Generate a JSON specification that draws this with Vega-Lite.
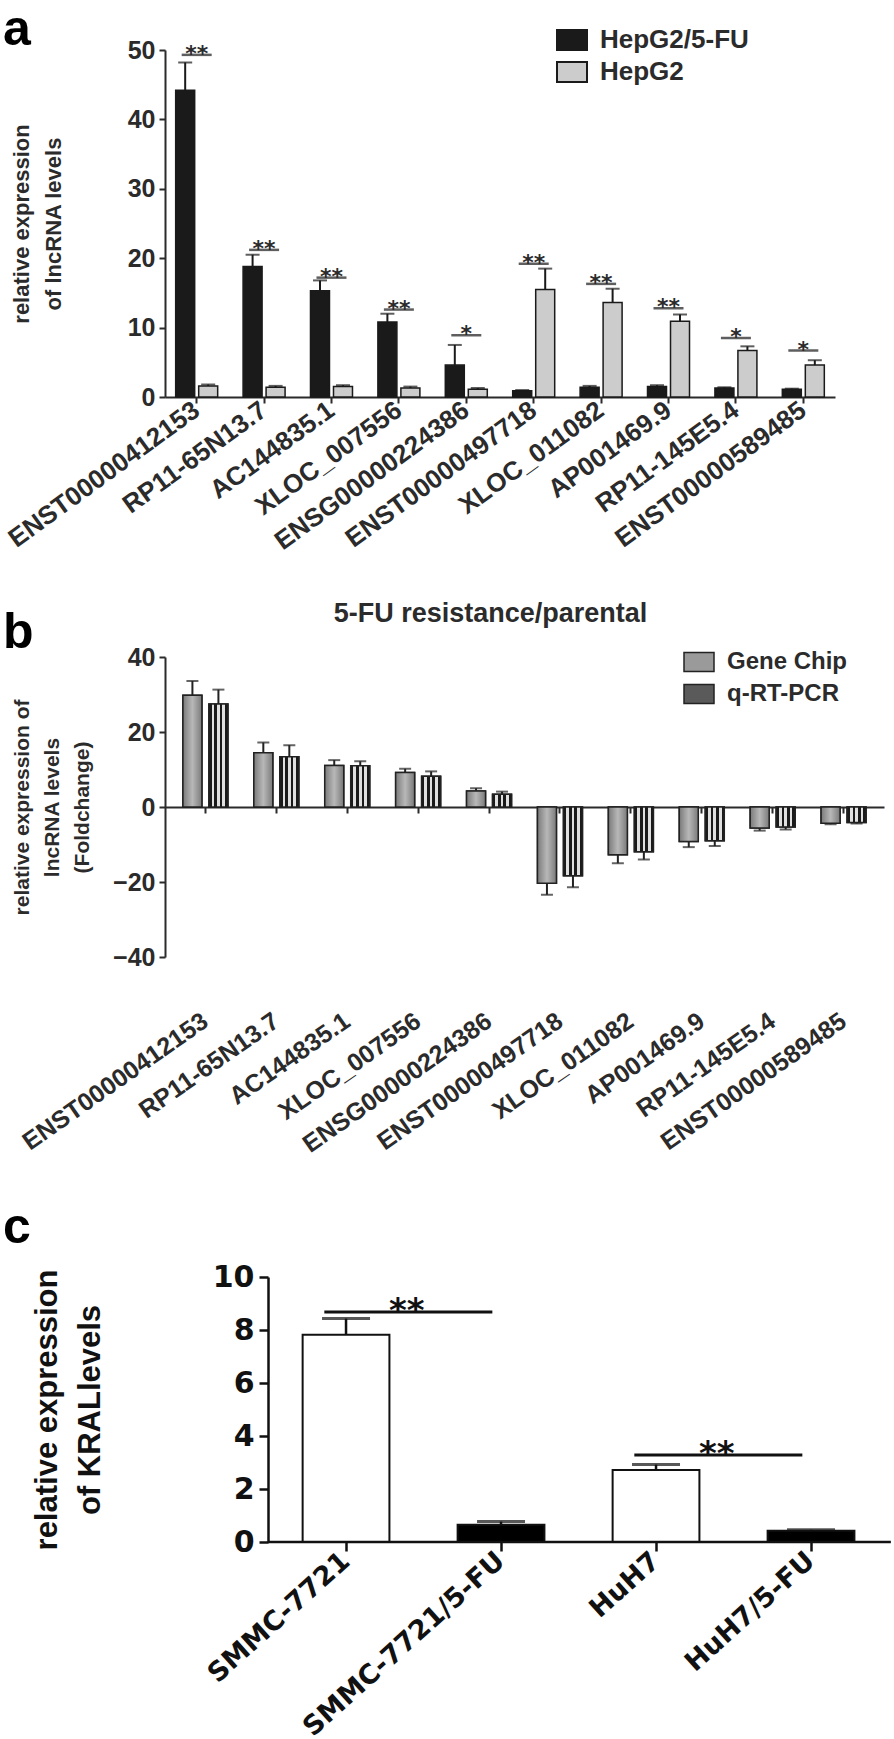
{
  "$schema": "https://vega.github.io/schema/vega-lite/v6.json",
  "background": "white",
  "padding": {"left": 3, "top": 5, "right": 0, "bottom": 0},
  "columns": 1,
  "spacing": 45,
  "resolve": {"scale": {"color": "independent"}},
  "config": {
    "view": {"stroke": null},
    "font": "Liberation Sans",
    "axis": {"grid": false, "domainColor": "#2b2b2b", "tickColor": "#2b2b2b", "labelColor": "#2b2b2b", "titleColor": "#2b2b2b", "domainWidth": 2, "tickWidth": 2, "labelFontWeight": "bold", "titleFontWeight": "bold", "labelOverlap": false, "labelLimit": 0, "labelFlush": false, "titleLimit": 1000},
    "legend": {"labelLimit": 0},
    "title": {"color": "black", "fontWeight": "bold"}
  },
  "datasets": {
    "a": [
      {"gene": "ENST00000412153", "group": "HepG2/5-FU", "value": 44.2, "err": 48.2},
      {"gene": "ENST00000412153", "group": "HepG2", "value": 1.6, "err": 1.8},
      {"gene": "RP11-65N13.7", "group": "HepG2/5-FU", "value": 18.8, "err": 20.5},
      {"gene": "RP11-65N13.7", "group": "HepG2", "value": 1.4, "err": 1.6},
      {"gene": "AC144835.1", "group": "HepG2/5-FU", "value": 15.3, "err": 16.8},
      {"gene": "AC144835.1", "group": "HepG2", "value": 1.5, "err": 1.7},
      {"gene": "XLOC_007556", "group": "HepG2/5-FU", "value": 10.8, "err": 12.0},
      {"gene": "XLOC_007556", "group": "HepG2", "value": 1.3, "err": 1.5},
      {"gene": "ENSG00000224386", "group": "HepG2/5-FU", "value": 4.6, "err": 7.5},
      {"gene": "ENSG00000224386", "group": "HepG2", "value": 1.1, "err": 1.3},
      {"gene": "ENST00000497718", "group": "HepG2/5-FU", "value": 0.9, "err": 1.0},
      {"gene": "ENST00000497718", "group": "HepG2", "value": 15.5, "err": 18.5},
      {"gene": "XLOC_011082", "group": "HepG2/5-FU", "value": 1.4, "err": 1.6},
      {"gene": "XLOC_011082", "group": "HepG2", "value": 13.6, "err": 15.6},
      {"gene": "AP001469.9", "group": "HepG2/5-FU", "value": 1.5, "err": 1.7},
      {"gene": "AP001469.9", "group": "HepG2", "value": 10.9, "err": 11.9},
      {"gene": "RP11-145E5.4", "group": "HepG2/5-FU", "value": 1.3, "err": 1.4},
      {"gene": "RP11-145E5.4", "group": "HepG2", "value": 6.7, "err": 7.3},
      {"gene": "ENST00000589485", "group": "HepG2/5-FU", "value": 1.1, "err": 1.2},
      {"gene": "ENST00000589485", "group": "HepG2", "value": 4.6, "err": 5.3}
    ],
    "asig": [
      {"gene": "ENST00000412153", "line": 49.3, "star": "**"},
      {"gene": "RP11-65N13.7", "line": 21.2, "star": "**"},
      {"gene": "AC144835.1", "line": 17.2, "star": "**"},
      {"gene": "XLOC_007556", "line": 12.6, "star": "**"},
      {"gene": "ENSG00000224386", "line": 8.9, "star": "*"},
      {"gene": "ENST00000497718", "line": 19.2, "star": "**"},
      {"gene": "XLOC_011082", "line": 16.3, "star": "**"},
      {"gene": "AP001469.9", "line": 12.8, "star": "**"},
      {"gene": "RP11-145E5.4", "line": 8.5, "star": "*"},
      {"gene": "ENST00000589485", "line": 6.7, "star": "*"}
    ],
    "b": [
      {"gene": "ENST00000412153", "method": "Gene Chip", "value": 29.8, "err": 33.6},
      {"gene": "ENST00000412153", "method": "q-RT-PCR", "value": 27.5, "err": 31.3},
      {"gene": "RP11-65N13.7", "method": "Gene Chip", "value": 14.5, "err": 17.2},
      {"gene": "RP11-65N13.7", "method": "q-RT-PCR", "value": 13.4, "err": 16.5},
      {"gene": "AC144835.1", "method": "Gene Chip", "value": 11.1, "err": 12.5},
      {"gene": "AC144835.1", "method": "q-RT-PCR", "value": 11.0, "err": 12.2},
      {"gene": "XLOC_007556", "method": "Gene Chip", "value": 9.2, "err": 10.2},
      {"gene": "XLOC_007556", "method": "q-RT-PCR", "value": 8.2, "err": 9.5},
      {"gene": "ENSG00000224386", "method": "Gene Chip", "value": 4.3, "err": 5.0},
      {"gene": "ENSG00000224386", "method": "q-RT-PCR", "value": 3.4, "err": 4.1},
      {"gene": "ENST00000497718", "method": "Gene Chip", "value": -20.3, "err": -23.4},
      {"gene": "ENST00000497718", "method": "q-RT-PCR", "value": -18.3, "err": -21.4},
      {"gene": "XLOC_011082", "method": "Gene Chip", "value": -12.7, "err": -15.0},
      {"gene": "XLOC_011082", "method": "q-RT-PCR", "value": -11.9, "err": -14.0},
      {"gene": "AP001469.9", "method": "Gene Chip", "value": -9.2, "err": -10.7},
      {"gene": "AP001469.9", "method": "q-RT-PCR", "value": -9.0, "err": -10.4},
      {"gene": "RP11-145E5.4", "method": "Gene Chip", "value": -5.6, "err": -6.3},
      {"gene": "RP11-145E5.4", "method": "q-RT-PCR", "value": -5.3, "err": -6.0},
      {"gene": "ENST00000589485", "method": "Gene Chip", "value": -4.3, "err": -4.6},
      {"gene": "ENST00000589485", "method": "q-RT-PCR", "value": -4.1, "err": -4.4}
    ],
    "c": [
      {"cell": "SMMC-7721", "kind": "parental", "value": 7.82, "err": 8.43},
      {"cell": "SMMC-7721/5-FU", "kind": "resistant", "value": 0.65, "err": 0.77},
      {"cell": "HuH7", "kind": "parental", "value": 2.72, "err": 2.92},
      {"cell": "HuH7/5-FU", "kind": "resistant", "value": 0.42, "err": 0.46}
    ],
    "csig": [
      {"from": "SMMC-7721", "to": "SMMC-7721/5-FU", "line": 8.68, "star": "**"},
      {"from": "HuH7", "to": "HuH7/5-FU", "line": 3.28, "star": "**"}
    ],
    "caxis": [
      {"start": "SMMC-7721", "end": "HuH7/5-FU", "level": 0}
    ]
  },
  "concat": [
    {
      "title": {"text": "a", "anchor": "start", "frame": "group", "dx": -162, "fontSize": 50, "offset": -31},
      "width": 670,
      "height": 347,
      "data": {"name": "a"},
      "layer": [
        {
          "transform": [{"filter": "datum.group === 'HepG2/5-FU'"}],
          "mark": {"type": "bar", "stroke": "#1a1a1a", "strokeWidth": 1.5, "width": 19, "xOffset": -11.5},
          "encoding": {
            "x": {"field": "gene", "type": "nominal", "title": null,
              "scale": {"type": "band", "domain": ["ENST00000412153", "RP11-65N13.7", "AC144835.1", "XLOC_007556", "ENSG00000224386", "ENST00000497718", "XLOC_011082", "AP001469.9", "RP11-145E5.4", "ENST00000589485"], "paddingInner": 0.36, "paddingOuter": 0.15},
              "axis": {"labelAngle": -36, "labelFontSize": 26, "tickSize": 6, "labelPadding": 4, "labelAlign": "right", "labelBaseline": "middle"}},
            "y": {"field": "value", "type": "quantitative", "scale": {"domain": [0, 50]},
              "axis": {"title": ["relative expression", "of lncRNA levels"], "titleFontSize": 22, "titleLineHeight": 32, "titlePadding": 62, "values": [0, 10, 20, 30, 40, 50], "labelFontSize": 25, "tickSize": 6, "labelPadding": 4}},
            "color": {"field": "group", "type": "nominal", "scale": {"domain": ["HepG2/5-FU", "HepG2"], "range": ["#1a1a1a", "#cccccc"]},
              "legend": {"orient": "none", "legendX": 391, "legendY": -26, "title": null, "labelFontSize": 26, "labelFontWeight": "bold", "labelColor": "#2b2b2b", "symbolType": "M-1,-0.667H1V0.667H-1Z", "symbolSize": 900, "symbolStrokeColor": "#1a1a1a", "symbolStrokeWidth": 2, "labelOffset": 12, "rowPadding": 1, "padding": 0}}
          }
        },
        {
          "transform": [{"filter": "datum.group === 'HepG2'"}],
          "mark": {"type": "bar", "stroke": "#1a1a1a", "strokeWidth": 1.5, "width": 19, "xOffset": 11.5},
          "encoding": {
            "x": {"field": "gene", "type": "nominal"},
            "y": {"field": "value", "type": "quantitative"},
            "color": {"field": "group", "type": "nominal"}
          }
        },
        {
          "transform": [{"filter": "datum.group === 'HepG2/5-FU'"}],
          "mark": {"type": "rule", "color": "#1a1a1a", "strokeWidth": 2, "xOffset": -11.5},
          "encoding": {
            "x": {"field": "gene", "type": "nominal"},
            "y": {"field": "value", "type": "quantitative"},
            "y2": {"field": "err"}
          }
        },
        {
          "transform": [{"filter": "datum.group === 'HepG2'"}],
          "mark": {"type": "rule", "color": "#1a1a1a", "strokeWidth": 2, "xOffset": 11.5},
          "encoding": {
            "x": {"field": "gene", "type": "nominal"},
            "y": {"field": "value", "type": "quantitative"},
            "y2": {"field": "err"}
          }
        },
        {
          "transform": [{"filter": "datum.group === 'HepG2/5-FU'"}],
          "mark": {"type": "tick", "color": "#1a1a1a", "thickness": 2, "size": 14, "xOffset": -11.5},
          "encoding": {
            "x": {"field": "gene", "type": "nominal"},
            "y": {"field": "err", "type": "quantitative"}
          }
        },
        {
          "transform": [{"filter": "datum.group === 'HepG2'"}],
          "mark": {"type": "tick", "color": "#1a1a1a", "thickness": 2, "size": 14, "xOffset": 11.5},
          "encoding": {
            "x": {"field": "gene", "type": "nominal"},
            "y": {"field": "err", "type": "quantitative"}
          }
        },
        {
          "data": {"name": "asig"},
          "mark": {"type": "tick", "color": "#1a1a1a", "thickness": 2.5, "size": 30},
          "encoding": {
            "x": {"field": "gene", "type": "nominal"},
            "y": {"field": "line", "type": "quantitative"}
          }
        },
        {
          "data": {"name": "asig"},
          "mark": {"type": "text", "font": "DejaVu Sans", "fontSize": 22, "fontWeight": "bold", "baseline": "alphabetic", "dy": 6, "color": "#2b2b2b"},
          "encoding": {
            "x": {"field": "gene", "type": "nominal"},
            "y": {"field": "line", "type": "quantitative"},
            "text": {"field": "star"}
          }
        }
      ]
    },
    {
      "title": {"text": "5-FU resistance/parental", "anchor": "middle", "frame": "bounds", "fontSize": 27, "dx": 47, "offset": -20, "color": "#2b2b2b"},
      "columns": 1,
      "concat": [
        {
          "title": {"text": "b", "anchor": "start", "frame": "group", "dx": -162, "fontSize": 50, "offset": -13},
          "width": 719,
          "height": 300,
          "data": {"name": "b"},
          "layer": [
            {
              "transform": [{"filter": "datum.method === 'Gene Chip'"}],
              "mark": {"type": "bar", "stroke": "#222222", "strokeWidth": 1.5, "width": 19, "xOffset": -13},
              "encoding": {
                "x": {"field": "gene", "type": "nominal", "title": null,
                  "scale": {"type": "band", "domain": ["ENST00000412153", "RP11-65N13.7", "AC144835.1", "XLOC_007556", "ENSG00000224386", "ENST00000497718", "XLOC_011082", "AP001469.9", "RP11-145E5.4", "ENST00000589485"], "paddingInner": 0.36, "paddingOuter": 0.25},
                  "axis": {"offset": -150, "labelAngle": -35, "labelFontSize": 25, "tickSize": 6, "labelPadding": 205, "labelAlign": "right", "labelBaseline": "middle"}},
                "y": {"field": "value", "type": "quantitative", "scale": {"domain": [-40, 40]},
                  "axis": {"title": ["relative expression of", "lncRNA levels", "(Foldchange)"], "titleFontSize": 21, "titleLineHeight": 30, "titlePadding": 20, "values": [-40, -20, 0, 20, 40], "labelFontSize": 25, "tickSize": 6, "labelPadding": 4}},
                "color": {"field": "method", "type": "nominal",
                  "scale": {"domain": ["Gene Chip", "q-RT-PCR"], "range": ["#9a9a9a", "#5a5a5a"]},
                  "legend": {"orient": "none", "legendX": 518, "legendY": -11, "title": null, "labelFontSize": 24, "labelFontWeight": "bold", "labelColor": "#2b2b2b", "symbolType": "M-1,-0.633H1V0.633H-1Z", "symbolSize": 900, "symbolStrokeColor": "#222222", "symbolStrokeWidth": 1.5, "labelOffset": 12, "rowPadding": 3, "padding": 0}}
              }
            },
            {
              "transform": [{"filter": "datum.method === 'q-RT-PCR'"}],
              "mark": {"type": "bar", "stroke": "#222222", "strokeWidth": 1.5, "width": 19, "xOffset": 13},
              "encoding": {
                "x": {"field": "gene", "type": "nominal"},
                "y": {"field": "value", "type": "quantitative"},
                "color": {"field": "method", "type": "nominal"}
              }
            },
            {
              "transform": [{"filter": "datum.method === 'Gene Chip'"}],
              "mark": {"type": "bar", "stroke": "#222222", "strokeWidth": 1.5, "width": 19, "xOffset": -13,
                "fill": {"gradient": "linear", "x1": 0, "y1": 0, "x2": 1, "y2": 0, "stops": [{"offset": 0, "color": "#7a7a7a"}, {"offset": 0.5, "color": "#b8b8b8"}, {"offset": 1, "color": "#7a7a7a"}]}},
              "encoding": {
                "x": {"field": "gene", "type": "nominal"},
                "y": {"field": "value", "type": "quantitative"}
              }
            },
            {
              "transform": [{"filter": "datum.method === 'q-RT-PCR'"}],
              "mark": {"type": "bar", "stroke": "#222222", "strokeWidth": 1.5, "width": 19, "xOffset": 13,
                "fill": {"gradient": "linear", "x1": 0, "y1": 0, "x2": 1, "y2": 0, "stops": [
                  {"offset": 0, "color": "#1a1a1a"}, {"offset": 0.143, "color": "#1a1a1a"}, {"offset": 0.143, "color": "#e0e0e0"}, {"offset": 0.286, "color": "#e0e0e0"},
                  {"offset": 0.286, "color": "#1a1a1a"}, {"offset": 0.429, "color": "#1a1a1a"}, {"offset": 0.429, "color": "#e0e0e0"}, {"offset": 0.571, "color": "#e0e0e0"},
                  {"offset": 0.571, "color": "#1a1a1a"}, {"offset": 0.714, "color": "#1a1a1a"}, {"offset": 0.714, "color": "#e0e0e0"}, {"offset": 0.857, "color": "#e0e0e0"},
                  {"offset": 0.857, "color": "#1a1a1a"}, {"offset": 1, "color": "#1a1a1a"}]}},
              "encoding": {
                "x": {"field": "gene", "type": "nominal"},
                "y": {"field": "value", "type": "quantitative"}
              }
            },
            {
              "transform": [{"filter": "datum.method === 'Gene Chip'"}],
              "mark": {"type": "rule", "color": "#222222", "strokeWidth": 2, "xOffset": -13},
              "encoding": {
                "x": {"field": "gene", "type": "nominal"},
                "y": {"field": "value", "type": "quantitative"},
                "y2": {"field": "err"}
              }
            },
            {
              "transform": [{"filter": "datum.method === 'q-RT-PCR'"}],
              "mark": {"type": "rule", "color": "#222222", "strokeWidth": 2, "xOffset": 13},
              "encoding": {
                "x": {"field": "gene", "type": "nominal"},
                "y": {"field": "value", "type": "quantitative"},
                "y2": {"field": "err"}
              }
            },
            {
              "transform": [{"filter": "datum.method === 'Gene Chip'"}],
              "mark": {"type": "tick", "color": "#222222", "thickness": 2, "size": 12, "xOffset": -13},
              "encoding": {
                "x": {"field": "gene", "type": "nominal"},
                "y": {"field": "err", "type": "quantitative"}
              }
            },
            {
              "transform": [{"filter": "datum.method === 'q-RT-PCR'"}],
              "mark": {"type": "tick", "color": "#222222", "thickness": 2, "size": 12, "xOffset": 13},
              "encoding": {
                "x": {"field": "gene", "type": "nominal"},
                "y": {"field": "err", "type": "quantitative"}
              }
            }
          ]
        }
      ]
    },
    {
      "title": {"text": "c", "anchor": "start", "frame": "group", "dx": -162, "fontSize": 50, "offset": 9},
      "width": 726,
      "height": 265,
      "data": {"name": "c"},
      "layer": [
        {
          "mark": {"type": "bar", "stroke": "#111111", "strokeWidth": 2},
          "encoding": {
            "x": {"field": "cell", "type": "nominal", "title": null,
              "scale": {"type": "band", "domain": ["SMMC-7721", "SMMC-7721/5-FU", "HuH7", "HuH7/5-FU"], "paddingInner": 0.44, "paddingOuter": 0.562, "align": 0.79},
              "axis": {"domain": false, "labelAngle": -42, "labelFont": "DejaVu Sans", "labelFontSize": 27, "labelColor": "#111111", "tickSize": 9, "tickWidth": 2.5, "tickColor": "#111111", "labelPadding": 6, "labelAlign": "right", "labelBaseline": "middle"}},
            "y": {"field": "value", "type": "quantitative", "scale": {"domain": [0, 10]},
              "axis": {"offset": -103, "title": ["relative expression", "of KRALlevels"], "titleFont": "Liberation Sans", "titleFontSize": 31, "titleLineHeight": 43, "titlePadding": 106, "titleColor": "#111111", "values": [0, 2, 4, 6, 8, 10], "labelFont": "DejaVu Sans", "labelFontSize": 30, "labelColor": "#111111", "tickSize": 9, "tickWidth": 2.5, "domainWidth": 2.5, "domainColor": "#111111", "tickColor": "#111111", "labelPadding": 5}},
            "color": {"field": "kind", "type": "nominal", "scale": {"domain": ["parental", "resistant"], "range": ["#ffffff", "#000000"]}, "legend": null}
          }
        },
        {
          "data": {"name": "caxis"},
          "mark": {"type": "rule", "color": "#111111", "strokeWidth": 2.5},
          "encoding": {
            "x": {"field": "start", "type": "nominal", "bandPosition": -0.4},
            "x2": {"field": "end", "bandPosition": 1.42},
            "y": {"field": "level", "type": "quantitative"}
          }
        },
        {
          "mark": {"type": "rule", "color": "#111111", "strokeWidth": 2.5},
          "encoding": {
            "x": {"field": "cell", "type": "nominal"},
            "y": {"field": "value", "type": "quantitative"},
            "y2": {"field": "err"}
          }
        },
        {
          "mark": {"type": "tick", "color": "#111111", "thickness": 3, "size": 48},
          "encoding": {
            "x": {"field": "cell", "type": "nominal"},
            "y": {"field": "err", "type": "quantitative"}
          }
        },
        {
          "data": {"name": "csig"},
          "mark": {"type": "rule", "color": "#111111", "strokeWidth": 3},
          "encoding": {
            "x": {"field": "from", "type": "nominal", "bandPosition": 0.25},
            "x2": {"field": "to", "bandPosition": 0.4},
            "y": {"field": "line", "type": "quantitative"}
          }
        },
        {
          "data": {"name": "csig"},
          "mark": {"type": "text", "font": "DejaVu Sans", "fontSize": 34, "fontWeight": "bold", "baseline": "alphabetic", "dy": 10, "color": "#111111"},
          "encoding": {
            "x": {"field": "from", "type": "nominal", "bandPosition": 1.2},
            "y": {"field": "line", "type": "quantitative"},
            "text": {"field": "star"}
          }
        }
      ]
    }
  ]
}
